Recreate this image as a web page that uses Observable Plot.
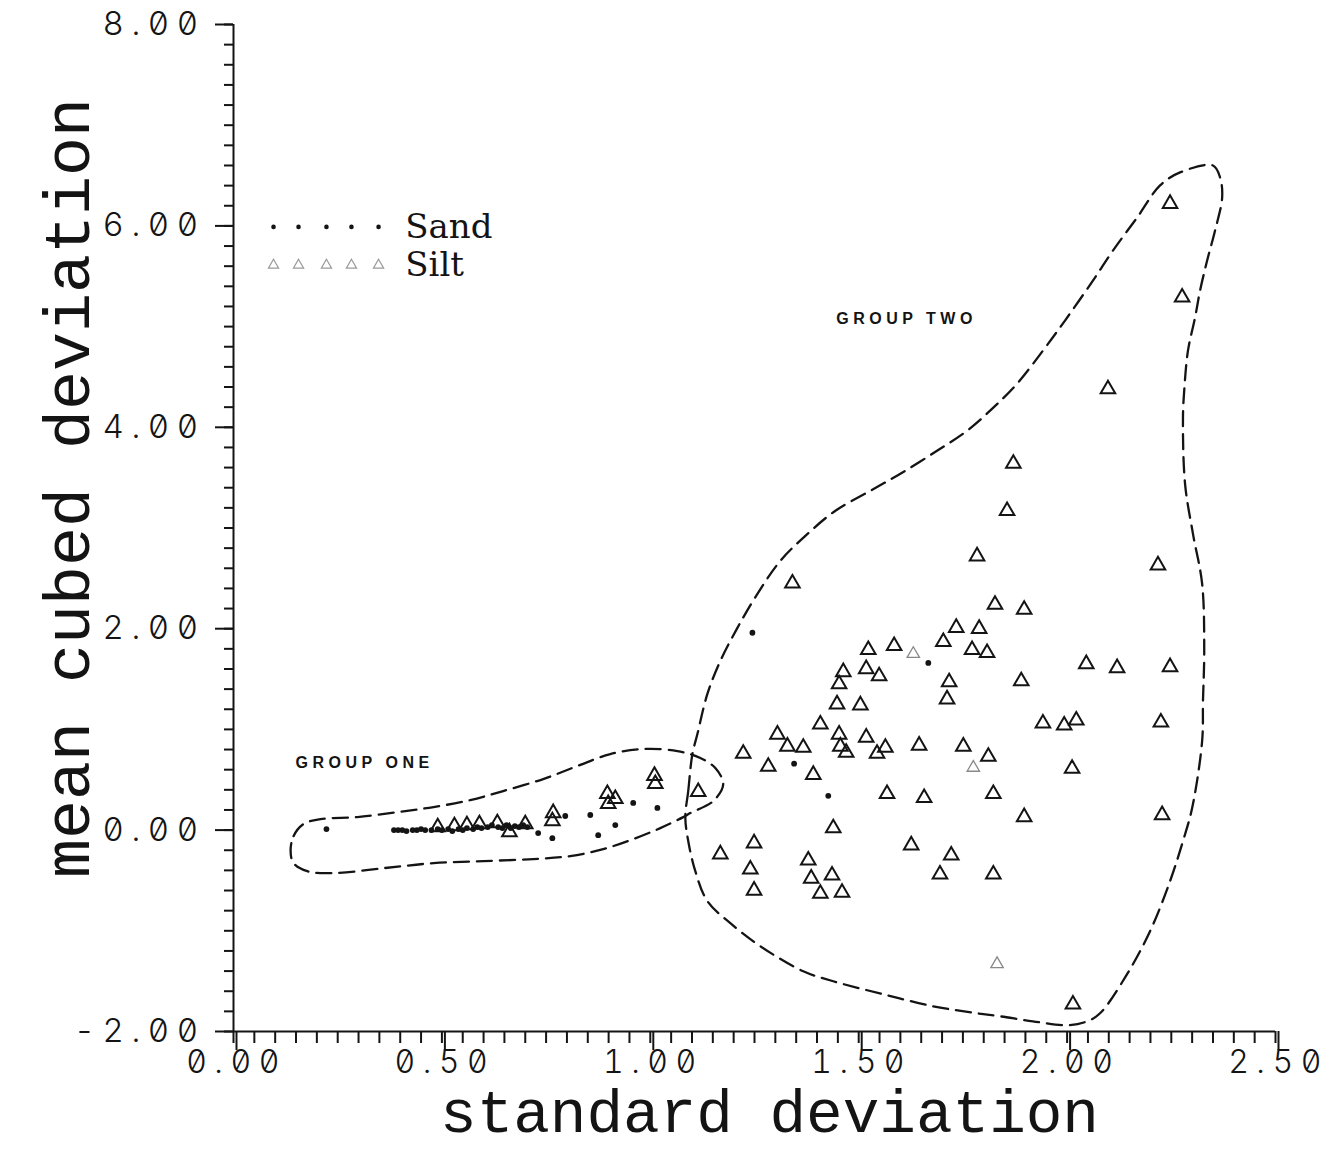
<!DOCTYPE html>
<html><head><meta charset="utf-8">
<script src="https://cdn.jsdelivr.net/npm/d3@7"></script>
<script src="https://cdn.jsdelivr.net/npm/@observablehq/plot@0.6"></script>
<style>
html,body{margin:0;padding:0;background:#fff;}
#chart{width:1340px;height:1150px;}
g[aria-label$="tick label"] text{font-feature-settings:"zero" 1,"tnum" 1;letter-spacing:7.5px;font-weight:300;}
</style></head><body><div id="chart"></div>
<script>
// ---------- data ----------
const sandX = [0.223,
  0.385,0.395,0.405,0.415,0.430,0.440,0.450,0.460,0.475,0.490,0.500,0.515,0.525,0.540,0.550,
  0.560,0.575,0.585,0.595,0.610,0.620,0.635,0.645,0.655,0.665,0.675,0.685,0.695,0.705,
  0.731,0.765,0.796,0.856,0.875,0.916,0.959,1.017,
  1.245,1.667,1.345,1.427];
const sandY = [0.01,
  0.00,0.00,0.00,-0.01,0.00,0.00,0.01,0.00,0.00,0.01,0.00,0.01,-0.01,0.01,0.00,
  0.02,0.01,0.03,0.02,0.03,0.05,0.03,0.02,0.05,0.02,0.04,0.03,0.05,0.03,
  -0.03,-0.08,0.14,0.15,-0.05,0.05,0.27,0.22,
  1.96,1.66,0.66,0.34];

const siltX = [
  0.490,0.530,0.560,0.590,0.633,0.662,0.700,0.767,0.765,0.897,0.899,0.916,1.012,1.010,1.115,
  2.247,2.276,2.098,1.871,1.856,1.784,1.341,2.218,1.827,1.897,1.734,1.789,1.703,1.772,1.808,
  1.523,1.585,1.463,1.518,1.549,1.453,1.717,1.448,1.504,1.712,1.890,2.046,2.120,2.247,
  1.942,1.993,2.022,2.225,1.408,1.305,1.329,1.367,1.223,1.453,1.456,1.470,1.518,1.544,1.564,
  1.645,1.751,1.811,1.283,1.391,1.568,1.657,1.823,1.439,1.897,2.228,2.012,
  1.249,1.168,1.240,1.249,1.379,1.386,1.436,1.408,1.460,1.626,1.722,1.695,1.823,2.014];
const siltY = [
  0.03,0.04,0.05,0.06,0.07,-0.02,0.06,0.17,0.09,0.36,0.26,0.31,0.46,0.54,0.38,
  6.22,5.29,4.38,3.64,3.17,2.72,2.45,2.63,2.24,2.19,2.01,2.00,1.87,1.79,1.76,
  1.79,1.83,1.57,1.60,1.53,1.45,1.47,1.25,1.24,1.30,1.48,1.65,1.61,1.62,
  1.06,1.04,1.09,1.07,1.05,0.95,0.83,0.82,0.76,0.95,0.83,0.77,0.92,0.76,0.82,
  0.84,0.83,0.73,0.63,0.55,0.36,0.32,0.36,0.02,0.13,0.15,0.61,
  -0.13,-0.24,-0.39,-0.60,-0.30,-0.48,-0.45,-0.63,-0.62,-0.15,-0.25,-0.44,-0.44,-1.73];

// faintly printed silt marks
const siltFaintX = [1.631,1.775,1.832];
const siltFaintY = [1.75,0.62,-1.33];

// hand-drawn group boundaries (dashed)
const groupOneX = [0.137,0.144,0.168,0.209,0.297,0.393,0.480,0.568,0.647,0.743,0.825,0.904,0.983,1.065,1.120,1.156,1.175,1.151,1.096,1.079,1.024,0.959,0.887,0.808,0.719,0.600,0.480,0.360,0.240,0.177,0.144];
const groupOneY = [-0.209,-0.060,0.060,0.109,0.129,0.179,0.229,0.298,0.388,0.507,0.636,0.755,0.805,0.785,0.716,0.616,0.457,0.288,0.169,0.129,0.020,-0.089,-0.189,-0.258,-0.288,-0.308,-0.328,-0.378,-0.427,-0.408,-0.328];

const groupTwoX = [1.084,1.091,1.101,1.113,1.137,1.168,1.209,1.257,1.312,1.372,1.444,1.528,1.600,1.688,1.760,1.823,1.880,1.942,1.995,2.062,2.110,2.168,2.223,2.271,2.350,2.367,2.372,2.355,2.336,2.319,2.307,2.290,2.281,2.278,2.283,2.302,2.324,2.329,2.326,2.324,2.300,2.278,2.247,2.199,2.141,2.079,2.048,2.000,1.918,1.839,1.784,1.679,1.559,1.439,1.367,1.264,1.192,1.137,1.108,1.091];
const groupTwoY = [0.129,0.388,0.755,0.954,1.352,1.680,2.008,2.346,2.674,2.922,3.171,3.370,3.539,3.767,3.966,4.195,4.433,4.761,5.060,5.457,5.755,6.083,6.402,6.531,6.600,6.481,6.282,5.954,5.656,5.358,5.089,4.761,4.364,4.095,3.439,2.942,2.445,1.779,1.282,0.885,0.219,-0.109,-0.507,-1.004,-1.451,-1.819,-1.899,-1.938,-1.899,-1.849,-1.819,-1.750,-1.630,-1.501,-1.402,-1.153,-0.924,-0.706,-0.408,-0.109];

const groupLabels = ["GROUP ONE", "GROUP TWO"];
const groupLabelX = [0.149, 1.446];
const groupLabelY = [0.67, 5.08];

const legendLabels = ["Sand", "Silt"];

const xTicks = [0, 0.5, 1, 1.5, 2, 2.5];
const yTicks = [-2, 0, 2, 4, 6, 8];
const xLabel = "standard deviation";
const yLabel = "mean cubed deviation";

// ---------- build ----------
const ink = "#141414";
const pts = (xs, ys) => xs.map((x, i) => ({x, y: ys[i]}));
const xMinor = d3.range(0, 51).map(i => i / 20);
const yMinor = d3.range(-10, 41).map(i => i / 5);

// legend layout (data-space placement inside the frame)
const legSymX = [0.096, 0.156, 0.223, 0.283, 0.348];
const legTextX = 0.412;
const legRowY = [5.99, 5.61];

const dash = {stroke: ink, strokeWidth: 2.3, strokeDasharray: "15,8", curve: "catmull-rom-closed", fill: "none"};
const tickFont = "Inter, 'DejaVu Sans Mono'";

const chart = Plot.plot({
  width: 1340,
  height: 1150,
  marginLeft: 233,
  marginRight: 65,
  marginTop: 24,
  marginBottom: 119,
  x: {domain: [0, 2.5]},
  y: {domain: [-2, 8]},
  style: {background: "#fff", color: ink, overflow: "visible"},
  marks: [
    Plot.line(pts(groupTwoX, groupTwoY), {x: "x", y: "y", ...dash}),
    Plot.line(pts(groupOneX, groupOneY), {x: "x", y: "y", ...dash}),
    Plot.dot(pts(siltX, siltY), {x: "x", y: "y", symbol: "triangle", r: 5.4, stroke: ink, strokeWidth: 2, fill: "none"}),
    Plot.dot(pts(siltFaintX, siltFaintY), {x: "x", y: "y", symbol: "triangle", r: 4.6, stroke: "#888", strokeWidth: 1.3, fill: "none"}),
    Plot.dot(pts(sandX, sandY), {x: "x", y: "y", r: 2.9, fill: ink, stroke: "none"}),
    // axis lines
    Plot.ruleY([-2], {stroke: ink, strokeWidth: 2}),
    Plot.ruleX([0], {stroke: ink, strokeWidth: 2}),
    // minor ticks
    Plot.axisX(xMinor, {tickSize: 12, fill: "none", label: null, stroke: ink, strokeWidth: 2}),
    Plot.axisY(yMinor, {tickSize: 9, fill: "none", label: null, stroke: ink, strokeWidth: 2}),
    // major ticks + labels
    Plot.axisX(xTicks, {tickSize: 19, tickPadding: 0, dx: 3, tickFormat: d => d.toFixed(2), label: null,
      fontSize: 32, fontFamily: tickFont, stroke: ink, strokeWidth: 2, fill: ink}),
    Plot.axisY(yTicks, {tickSize: 18, tickPadding: 10, tickFormat: d => d.toFixed(2), label: null,
      fontSize: 33, fontFamily: tickFont, stroke: ink, strokeWidth: 2, fill: ink}),
    // axis titles
    Plot.text([xLabel], {frameAnchor: "bottom", dx: 15, dy: 100.5, lineAnchor: "bottom", textAnchor: "middle",
      fontSize: 61, fontFamily: "Liberation Mono", fill: ink}),
    Plot.text([yLabel], {frameAnchor: "left", rotate: -90, dx: -145, dy: -40, lineAnchor: "bottom", textAnchor: "middle",
      fontSize: 65, fontFamily: "Liberation Mono", fill: ink}),
    // group annotations
    Plot.text(groupLabels, {x: (d, i) => groupLabelX[i], y: (d, i) => groupLabelY[i], textAnchor: "start",
      fontSize: 16, fontWeight: "bold", fontFamily: "Liberation Sans", fill: ink}),
    // legend
    Plot.dot(legSymX, {x: d => d, y: legRowY[0], r: 2.3, fill: ink, stroke: "none"}),
    Plot.dot(legSymX, {x: d => d, y: legRowY[1], symbol: "triangle", r: 3.8, stroke: "#9a9a9a", strokeWidth: 1.2, fill: "none"}),
    Plot.text(legendLabels, {x: legTextX, y: (d, i) => legRowY[i], textAnchor: "start",
      fontSize: 34, fontFamily: "DejaVu Serif", fill: ink})
  ]
});

d3.select(chart).selectAll("text").filter(function() {
  return groupLabels.includes(this.textContent);
}).style("letter-spacing", "4.5px");

document.getElementById("chart").appendChild(chart);
</script>
</body></html>
